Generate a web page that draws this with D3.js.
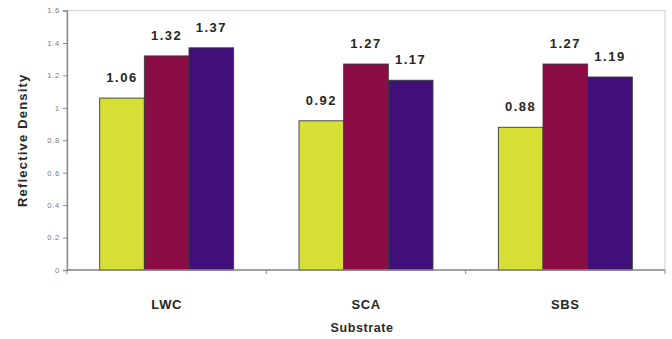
<!DOCTYPE html>
<html>
<head>
<meta charset="utf-8">
<script src="https://cdn.jsdelivr.net/npm/d3@7"></script>
<style>
  html, body { margin: 0; padding: 0; background: #fff; }
  svg { display: block; }
  text { font-family: Arial, "Liberation Sans", Helvetica, sans-serif; }
</style>
</head>
<body>
<svg id="chart" width="672" height="339"></svg>
<script>
// Substrates on the x axis
const categories = ["LWC", "SCA", "SBS"];
// Three series per substrate (yellow, maroon, purple)
const seriesA = [1.06, 0.92, 0.88];
const seriesB = [1.32, 1.27, 1.27];
const seriesC = [1.37, 1.17, 1.19];
const seriesKeys = ["a", "b", "c"];
const seriesColors = ["#d5df36", "#8c0c46", "#42107b"];
const yTicks = [0, 0.2, 0.4, 0.6, 0.8, 1, 1.2, 1.4, 1.6];
const yTickLabels = ["0", "0.2", "0.4", "0.6", "0.8", "1", "1.2", "1.4", "1.6"];

const rows = categories.map((c, i) => ({ cat: c, a: seriesA[i], b: seriesB[i], c: seriesC[i] }));

const svg = d3.select("#chart");
const plot = { left: 67, right: 665, top: 10.5, bottom: 270 };

const x0 = d3.scaleBand().domain(categories).range([plot.left, plot.right])
  .paddingInner(0.328).paddingOuter(0.164);
const x1 = d3.scaleBand().domain(seriesKeys).range([0, x0.bandwidth()]);
const y = d3.scaleLinear().domain([0, 1.6]).range([plot.bottom, plot.top]);

// plot frame (light)
svg.append("rect")
  .attr("x", plot.left).attr("y", plot.top)
  .attr("width", plot.right - plot.left).attr("height", plot.bottom - plot.top)
  .attr("fill", "none").attr("stroke", "#d4d4d4").attr("stroke-width", 1.2);

// bars
const groups = svg.append("g").selectAll("g").data(rows).join("g")
  .attr("transform", d => `translate(${x0(d.cat)},0)`);

groups.selectAll("rect")
  .data(d => seriesKeys.map((k, i) => ({ key: k, value: d[k], color: seriesColors[i] })))
  .join("rect")
  .attr("x", d => x1(d.key))
  .attr("y", d => y(d.value))
  .attr("width", x1.bandwidth())
  .attr("height", d => y(0) - y(d.value))
  .attr("fill", d => d.color)
  .attr("stroke", "#3b3b3b")
  .attr("stroke-width", 0.9);

// value labels
groups.selectAll("text.val")
  .data(d => seriesKeys.map(k => ({ key: k, value: d[k] })))
  .join("text")
  .attr("class", "val")
  .attr("x", d => x1(d.key) + x1.bandwidth() / 2)
  .attr("y", d => y(d.value) - 16)
  .attr("text-anchor", "middle")
  .attr("font-size", 13)
  .attr("font-weight", "bold")
  .attr("letter-spacing", 1.5)
  .attr("fill", "#262626")
  .text(d => d.value.toFixed(2));

// y axis
const yAxis = d3.axisLeft(y).tickValues(yTicks)
  .tickFormat((d, i) => yTickLabels[i]).tickSize(4).tickPadding(3);
const gy = svg.append("g").attr("transform", `translate(${plot.left},0)`).call(yAxis);
gy.select(".domain").attr("stroke", "#8a8a8a").attr("stroke-width", 1.4);
gy.selectAll(".tick line").attr("stroke", "#8a8a8a");
gy.selectAll(".tick text").attr("font-size", 7.5).attr("fill", "#7a7a7a")
  .attr("letter-spacing", 0.8)
  .style("font-family", "Arial, 'Liberation Sans', sans-serif");

// x axis with boundary ticks
const gx = svg.append("g").attr("transform", `translate(0,${plot.bottom})`);
gx.append("line").attr("x1", plot.left).attr("x2", plot.right)
  .attr("stroke", "#8a8a8a").attr("stroke-width", 1.4);
const bounds = d3.range(categories.length + 1).map(i => plot.left + i * x0.step());
gx.selectAll("line.b").data(bounds).join("line").attr("class", "b")
  .attr("x1", d => d).attr("x2", d => d).attr("y1", 0).attr("y2", 4)
  .attr("stroke", "#8a8a8a").attr("stroke-width", 1);

const xAxis = d3.axisBottom(x0).tickSize(0).tickPadding(0);
const gxl = svg.append("g").attr("transform", `translate(0,${plot.bottom})`).call(xAxis);
gxl.select(".domain").remove();
gxl.selectAll(".tick text")
  .attr("y", 30)
  .attr("font-size", 13).attr("font-weight", "bold")
  .attr("letter-spacing", 0.6)
  .attr("fill", "#262626")
  .style("font-family", "Arial, 'Liberation Sans', sans-serif");

// axis titles
svg.append("text")
  .attr("x", (plot.left + plot.right) / 2 - 4).attr("y", 332)
  .attr("text-anchor", "middle")
  .attr("font-size", 12.5).attr("font-weight", "bold")
  .attr("letter-spacing", 0.6)
  .attr("fill", "#2a2a2a")
  .text("Substrate");

svg.append("text")
  .attr("transform", `translate(27,${(plot.top + plot.bottom) / 2}) rotate(-90)`)
  .attr("text-anchor", "middle")
  .attr("font-size", 13).attr("font-weight", "bold")
  .attr("letter-spacing", 1.2)
  .attr("fill", "#2a2a2a")
  .text("Reflective Density");
</script>
</body>
</html>
